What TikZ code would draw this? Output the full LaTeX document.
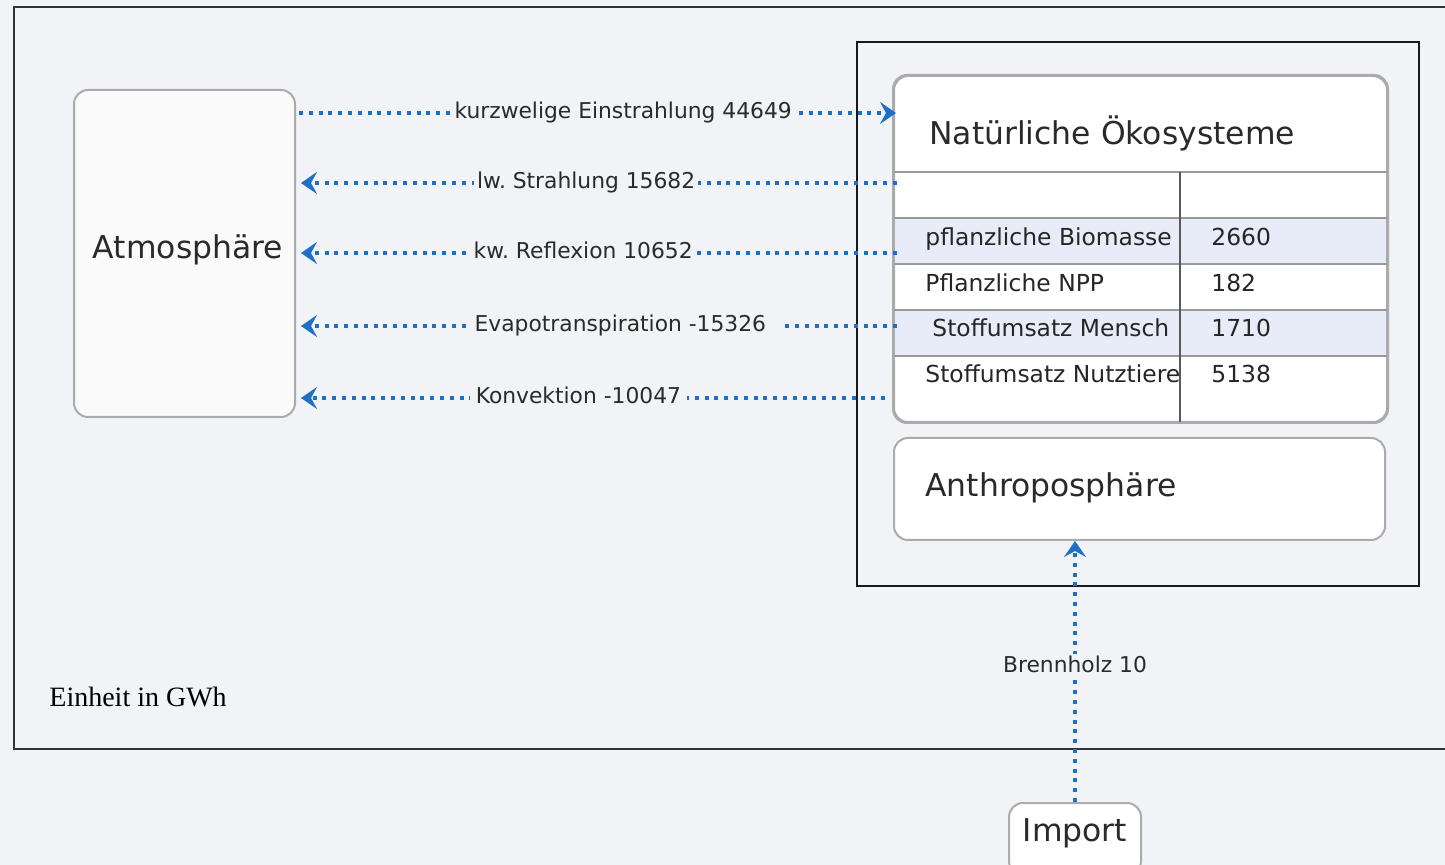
\documentclass[tikz,border=0pt]{standalone}
\usepackage{fontspec}
\setmainfont{DejaVu Sans}
\newfontfamily\notefont{Liberation Serif}
\usetikzlibrary{arrows.meta}
\definecolor{bg}{HTML}{F1F3F7}
\definecolor{flowblue}{HTML}{1E6FC8}
\definecolor{boxline}{HTML}{ABABAB}
\definecolor{rowshade}{HTML}{E7ECF8}
\definecolor{txt}{HTML}{2A2A2A}
\frenchspacing
\begin{document}
\begin{tikzpicture}[x=0.5pt,y=-0.5pt,
  box/.style={draw=boxline, line width=1pt, fill=white, rounded corners=7pt, inner sep=0pt},
  bigtxt/.style={font=\fontsize{15.7pt}{18pt}\selectfont, text=txt, inner sep=0pt},
  celltxt/.style={font=\fontsize{11.7pt}{14pt}\selectfont, text=black!85, inner sep=0pt, anchor=west, text height=8.5pt, text depth=2.5pt},
  lbl/.style={font=\fontsize{10.9pt}{13pt}\selectfont, text=txt, fill=bg, inner sep=1.5pt, text height=8pt, text depth=2.3pt},
  flow/.style={flowblue, line width=2pt, dash pattern=on 2pt off 2.9pt, -{Stealth[length=8pt,width=11pt,inset=3pt]}},
  tline/.style={draw=black!40, line width=0.8pt},
]
\fill[bg] (0,0) rectangle (1445,865);
\useasboundingbox (0,0) rectangle (1445,865);

% frames
\draw[line width=1pt, draw=black!80] (14,7) rectangle (1470,749);
\draw[line width=0.8pt, draw=black!90] (857,42) rectangle (1419,586);

% boxes
\node[box, fill=black!2, minimum width=110.5pt, minimum height=163.5pt] (atmo) at (184.5,253.5) {};
\node[bigtxt] at (188,250) {Atmosphäre};

\node[box, minimum width=246.5pt, minimum height=173pt] (nat) at (1140.5,249) {};
\fill[rowshade] (895,218) rectangle (1386,264);
\fill[rowshade] (895,310) rectangle (1386,356);
\draw[tline, line width=1pt] (894,172) -- (1387,172);
\draw[tline] (894,218) -- (1387,218);
\draw[tline] (894,264) -- (1387,264);
\draw[tline] (894,310) -- (1387,310);
\draw[tline] (894,356) -- (1387,356);
\draw[draw=black!65, line width=0.6pt] (1180,172) -- (1180,422);
\draw[draw=boxline, line width=1pt, rounded corners=7pt] (nat.north west) rectangle (nat.south east);
\node[bigtxt, anchor=west] at (929,133) {Natürliche Ökosysteme};

\node[celltxt] at (925,240) {pflanzliche Biomasse};
\node[celltxt] at (925,286) {Pflanzliche NPP};
\node[celltxt] at (932,331) {Stoffumsatz Mensch};
\node[celltxt] at (925,377) {Stoffumsatz Nutztiere};
\node[celltxt] at (1211,240) {2660};
\node[celltxt] at (1211,286) {182};
\node[celltxt] at (1211,331) {1710};
\node[celltxt] at (1211,377) {5138};

\node[box, minimum width=245.5pt, minimum height=51pt] (anthro) at (1139.5,489) {};
\node[bigtxt, anchor=west] at (925,488) {Anthroposphäre};

\node[box, minimum width=66pt, minimum height=36pt, font=\fontsize{15.7pt}{18pt}\selectfont, text=txt, text depth=8.5pt] (import) at (1075,839) {Import};

% flows
\coordinate (y1) at (0,113);
\coordinate (y2) at (0,183);
\coordinate (y3) at (0,253);
\coordinate (y4) at (0,326);
\coordinate (y5) at (0,398);

\draw[flow, shorten <=1.5pt, shorten >=-1.5pt] (atmo.east |- y1) -- (nat.west |- y1)
  node[lbl, pos=0.548] {kurzwelige Einstrahlung 44649};
\draw[flow, shorten <=-2pt, shorten >=2.5pt] (nat.west |- y2) -- (atmo.east |- y2)
  node[lbl, pos=0.514] {lw. Strahlung 15682};
\draw[flow, shorten <=-2pt, shorten >=2.5pt] (nat.west |- y3) -- (atmo.east |- y3)
  node[lbl, pos=0.519] {kw. Reflexion 10652};
\draw[flow, shorten <=-2pt, shorten >=2.5pt] (nat.west |- y4) -- (atmo.east |- y4)
  node[lbl, pos=0.445] {Evapotranspiration -15326\kern7pt};
\draw[flow, shorten <=4pt, shorten >=2.5pt] (nat.west |- y5) -- (atmo.east |- y5)
  node[lbl, pos=0.527, inner xsep=3pt] {Konvektion -10047};

\draw[flow] (import.north) -- (anthro.south -| import.north)
  node[lbl, pos=0.517] {Brennholz 10};

\node[font=\notefont\fontsize{14pt}{16pt}\selectfont, anchor=west, inner sep=0pt] at (49,697) {Einheit in GWh};
\end{tikzpicture}
\end{document}
